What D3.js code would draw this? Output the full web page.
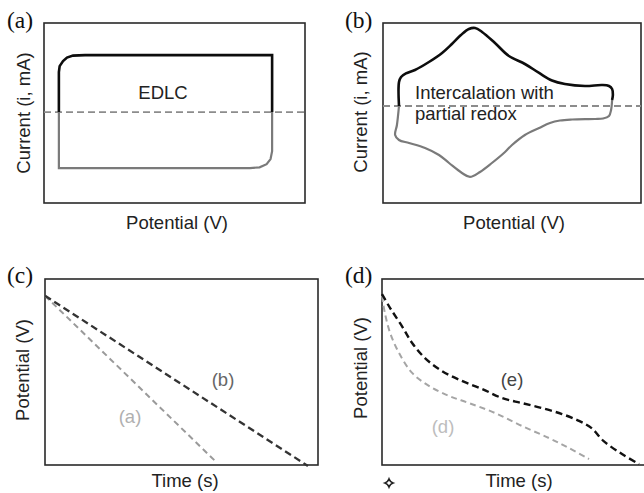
<!DOCTYPE html>
<html><head><meta charset="utf-8">
<script src="https://cdn.jsdelivr.net/npm/d3@7"></script>
<style>body{margin:0;background:#fff}svg{display:block}</style>
</head><body>
<script>
// ---- data ----
// (a) EDLC cyclic voltammogram: [potential, current] (normalised)
const edlcAnodic = [[0.057,0],[0.057,0.449],[0.060,0.516],[0.073,0.572],[0.088,0.612],[0.111,0.634],[0.157,0.640],[0.874,0.640],[0.874,0]];
const edlcCathodic = [[0.874,0],[0.874,-0.438],[0.868,-0.527],[0.853,-0.584],[0.826,-0.620],[0.789,-0.628],[0.057,-0.628],[0.057,0]];
// (b) intercalation with partial redox
const redoxAnodic = [[0.062,0],[0.062,0.289],[0.070,0.349],[0.089,0.392],[0.124,0.434],[0.178,0.530],[0.229,0.639],[0.267,0.747],[0.302,0.855],[0.333,0.928],[0.357,0.940],[0.384,0.892],[0.434,0.759],[0.488,0.602],[0.550,0.506],[0.605,0.398],[0.655,0.307],[0.705,0.265],[0.783,0.241],[0.849,0.253],[0.876,0.241],[0.888,0.205],[0.891,0.133],[0.888,0.072]];
const redoxCathodic = [[0.888,0.072],[0.884,-0.048],[0.876,-0.120],[0.853,-0.151],[0.822,-0.157],[0.733,-0.163],[0.686,-0.175],[0.647,-0.205],[0.605,-0.265],[0.550,-0.349],[0.500,-0.470],[0.473,-0.554],[0.422,-0.687],[0.376,-0.795],[0.337,-0.855],[0.306,-0.807],[0.256,-0.687],[0.217,-0.590],[0.163,-0.506],[0.101,-0.446],[0.062,-0.410],[0.047,-0.349],[0.054,-0.229],[0.062,0]];
// (c) galvanostatic discharge, linear: [time, potential]
const dischargeA = [[0,0.91],[0.623,0.022]];
const dischargeB = [[0,0.91],[0.963,-0.005]];
// (d) galvanostatic discharge, non-linear
const dischargeD = [[0,0.909],[0.011,0.817],[0.031,0.710],[0.065,0.602],[0.115,0.495],[0.179,0.425],[0.256,0.371],[0.332,0.333],[0.431,0.280],[0.534,0.210],[0.637,0.145],[0.714,0.091],[0.790,0.032]];
const dischargeE = [[0,0.919],[0.031,0.844],[0.076,0.747],[0.115,0.656],[0.164,0.575],[0.229,0.505],[0.305,0.452],[0.382,0.409],[0.458,0.360],[0.534,0.333],[0.611,0.306],[0.687,0.274],[0.752,0.237],[0.800,0.198],[0.845,0.130],[0.916,0.059],[0.981,0.005]];
// labels
const panelLetters = ["(a)","(b)","(c)","(d)"];
const yTitles = ["Current (i, mA)","Current (i, mA)","Potential (V)","Potential (V)"];
const xTitles = ["Potential (V)","Potential (V)","Time (s)","Time (s)"];

const W = 644, H = 493;
const svg = d3.select("body").append("svg").attr("width",W).attr("height",H);
const sans = "Arial, 'Liberation Sans', Helvetica, sans-serif";
const serif = "'Liberation Serif', 'Times New Roman', serif";

const panels = [
  {box:[44,23,305,203], yDom:[-1.02,1], letterX:7, yLab:[23,113], xLab:[177,229]},
  {box:[383,23,641,203], yDom:[-1.169,1], letterX:345, yLab:[360,112], xLab:[514,229]},
  {box:[45,279,318,465], yDom:[0,1], letterX:7, yLab:[22,370], xLab:[185,487]},
  {box:[382,279,650,465], yDom:[0,1], letterX:345, yLab:[360,368], xLab:[519,487], xRangeR:644}
];

const scales = panels.map(p => {
  const [x0,y0,x1,y1] = p.box;
  return {
    x: d3.scaleLinear().domain([0,1]).range([x0, p.xRangeR || x1]),
    y: d3.scaleLinear().domain(p.yDom).range([y1,y0])
  };
});

panels.forEach((p,i) => {
  const [x0,y0,x1,y1] = p.box;
  const g = svg.append("g");
  g.append("rect").attr("x",x0).attr("y",y0).attr("width",x1-x0).attr("height",y1-y0)
    .attr("fill","none").attr("stroke","#2a2a2a").attr("stroke-width",1.6);
  g.append("text").attr("x",p.letterX).attr("y",i<2?28:283).text(panelLetters[i])
    .attr("font-family",serif).attr("font-size",23.5).attr("fill","#111");
  g.append("text").attr("transform",`translate(${p.yLab[0]},${p.yLab[1]}) rotate(-90)`)
    .attr("text-anchor","middle").attr("dominant-baseline","central")
    .attr("font-family",sans).attr("font-size",18.5).attr("fill","#222").text(yTitles[i]);
  g.append("text").attr("x",p.xLab[0]).attr("y",p.xLab[1]).attr("text-anchor","middle")
    .attr("font-family",sans).attr("font-size",18.5).attr("fill","#222").text(xTitles[i]);
});

function lineFor(i, curve){
  return d3.line().x(d=>scales[i].x(d[0])).y(d=>scales[i].y(d[1])).curve(curve||d3.curveLinear);
}

// zero-current dashed lines (a),(b)
[0,1].forEach(i=>{
  svg.append("line").attr("x1",scales[i].x.range()[0]).attr("x2",scales[i].x.range()[1])
    .attr("y1",scales[i].y(0)).attr("y2",scales[i].y(0))
    .attr("stroke","#8c8c8c").attr("stroke-width",1.8).attr("stroke-dasharray","7,4");
});

// (a)
svg.append("path").datum(edlcCathodic).attr("d",lineFor(0)).attr("fill","none").attr("stroke","#7a7a7a").attr("stroke-width",2.2);
svg.append("path").datum(edlcAnodic).attr("d",lineFor(0)).attr("fill","none").attr("stroke","#0d0d0d").attr("stroke-width",2.6);
svg.append("text").attr("x",163).attr("y",92).attr("text-anchor","middle").attr("dominant-baseline","central")
  .attr("font-family",sans).attr("font-size",18.5).attr("fill","#222").text("EDLC");

// (b)
const cr = d3.curveCatmullRom.alpha(0.5);
svg.append("path").datum(redoxCathodic).attr("d",lineFor(1,cr)).attr("fill","none").attr("stroke","#7a7a7a").attr("stroke-width",2.2);
svg.append("path").datum(redoxAnodic).attr("d",lineFor(1,cr)).attr("fill","none").attr("stroke","#0d0d0d").attr("stroke-width",2.6);
svg.append("text").attr("x",415).attr("y",99).attr("font-family",sans).attr("font-size",18.5).attr("fill","#222").text("Intercalation with");
svg.append("text").attr("x",415).attr("y",120).attr("font-family",sans).attr("font-size",18.5).attr("fill","#222").text("partial redox");

// (c)
svg.append("path").datum(dischargeA).attr("d",lineFor(2)).attr("fill","none").attr("stroke","#9a9a9a").attr("stroke-width",2).attr("stroke-dasharray","6,4");
svg.append("path").datum(dischargeB).attr("d",lineFor(2)).attr("fill","none").attr("stroke","#333").attr("stroke-width",2.3).attr("stroke-dasharray","7,4");
svg.append("text").attr("x",223).attr("y",379).attr("text-anchor","middle").attr("dominant-baseline","central")
  .attr("font-family",sans).attr("font-size",18.5).attr("fill","#666").text("(b)");
svg.append("text").attr("x",130).attr("y",416).attr("text-anchor","middle").attr("dominant-baseline","central")
  .attr("font-family",sans).attr("font-size",18.5).attr("fill","#b0b0b0").text("(a)");

// (d)
const smooth = d3.curveCatmullRom.alpha(0.5);
svg.append("path").datum(dischargeD).attr("d",lineFor(3,smooth)).attr("fill","none").attr("stroke","#a5a5a5").attr("stroke-width",2).attr("stroke-dasharray","6,4");
svg.append("path").datum(dischargeE).attr("d",lineFor(3,smooth)).attr("fill","none").attr("stroke","#111").attr("stroke-width",2.4).attr("stroke-dasharray","7,4");
svg.append("text").attr("x",512).attr("y",379).attr("text-anchor","middle").attr("dominant-baseline","central")
  .attr("font-family",sans).attr("font-size",18.5).attr("fill","#444").text("(e)");
svg.append("text").attr("x",443).attr("y",426).attr("text-anchor","middle").attr("dominant-baseline","central")
  .attr("font-family",sans).attr("font-size",18.5).attr("fill","#bdbdbd").text("(d)");

// small four-point mark below panel (d)
const starMark = {draw(ctx, size){
  const r = Math.sqrt(size)/2, k = r*0.28;
  ctx.moveTo(0,-r); ctx.quadraticCurveTo(k,-k,r,0); ctx.quadraticCurveTo(k,k,0,r);
  ctx.quadraticCurveTo(-k,k,-r,0); ctx.quadraticCurveTo(-k,-k,0,-r); ctx.closePath();
}};
svg.append("path").attr("d",d3.symbol(starMark, 64)()).attr("transform","translate(389,483)")
  .attr("fill","none").attr("stroke","#222").attr("stroke-width",1.7);
</script>
</body></html>
